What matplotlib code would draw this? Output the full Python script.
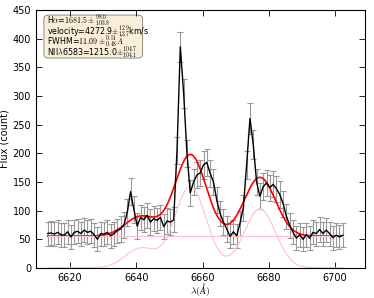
import numpy as np
import matplotlib
matplotlib.use("Agg")
import matplotlib.pyplot as plt
from matplotlib.patches import FancyBboxPatch

plt.rcParams['mathtext.fontset'] = 'cm'
plt.rcParams['font.family'] = 'DejaVu Sans'

# observed spectrum, 1 A sampling starting at 6613.3 A
wave_start = 6613.3
flux = [60, 61, 59, 62, 58, 57, 63, 54, 62, 64,
        60, 66, 62, 64, 58, 50, 60, 59, 62, 56,
        60, 65, 68, 75, 97, 133, 102, 73, 88, 84,
        92, 80, 86, 83, 88, 72, 82, 80, 84, 205,
        386, 305, 200, 131, 150, 162, 166, 180, 184, 165,
        150, 118, 95, 80, 68, 55, 63, 56, 78, 105,
        180, 261, 215, 150, 125, 142, 148, 140, 146, 138,
        128, 112, 90, 74, 62, 52, 58, 50, 58, 52,
        62, 60, 67, 60, 66, 60, 53, 57, 54, 57]
flux_err = [21, 21, 21, 21, 21, 21, 21, 21, 21, 21,
            21, 21, 21, 21, 21, 21, 21, 21, 21, 21,
            21, 21, 22, 22, 23, 24, 23, 22, 22, 22,
            22, 22, 22, 22, 22, 22, 22, 22, 22, 24,
            26, 25, 24, 23, 23, 23, 23, 24, 24, 23,
            23, 23, 22, 22, 22, 21, 21, 21, 22, 23,
            24, 27, 25, 23, 23, 23, 23, 23, 23, 23,
            23, 23, 22, 22, 21, 21, 21, 21, 21, 21,
            21, 21, 21, 21, 21, 21, 21, 21, 21, 21]
wave = wave_start + np.arange(len(flux))

# fit parameters (from the annotation box)
ha_flux = 1681.5
nii_flux = 1215.0
velocity = 4272.9
fwhm = 11.09
continuum = 55.5
ha_rest, nii_rest, nii2_rest = 6562.8, 6583.45, 6548.05

info_lines = [r'H$\alpha$=$1681.5\pm^{98.0}_{103.8}$',
              r'velocity=4272.9$\pm^{12.9}_{13.7}$km/s',
              r'FWHM=$11.09\pm^{0.51}_{0.48}\,\AA$',
              r'NII$\lambda$6583=1215.0$\pm^{104.7}_{104.1}$']


def gauss(x, total, centre, sig):
    return total / (sig * np.sqrt(2 * np.pi)) * np.exp(-0.5 * ((x - centre) / sig) ** 2)


z = velocity / 299792.458
sigma = fwhm / 2.3548
xf = np.linspace(wave[0], wave[-1], 600)
lines = (gauss(xf, ha_flux, ha_rest * (1 + z), sigma)
         + gauss(xf, nii_flux, nii_rest * (1 + z), sigma * nii_rest / ha_rest)
         + gauss(xf, nii_flux / 3.0, nii2_rest * (1 + z), sigma * nii2_rest / ha_rest))

fig = plt.figure(figsize=(3.74, 2.98), dpi=100)
ax = fig.add_axes([0.096, 0.101, 0.88, 0.865])

ax.errorbar(wave, flux, yerr=flux_err, fmt='-', color='black', lw=1.0,
            ecolor='#999999', elinewidth=0.8, capsize=2, capthick=0.8)
ax.plot(xf, continuum + lines, color='red', lw=1.2)
ax.plot(xf, lines, color='pink', lw=0.8)
ax.plot([wave[0], wave[-1]], [continuum, continuum], color='pink', lw=0.8)

ax.set_xlim(6609.75, 6709)
ax.set_ylim(0, 450)
ax.set_xticks([6620, 6640, 6660, 6680, 6700])
ax.set_yticks(np.arange(0, 451, 50))
ax.tick_params(direction='in', top=True, right=True, labelsize=7, length=4, width=0.6)
ax.set_xlabel(r'$\lambda(\AA)$', fontsize=7, labelpad=-1.5)
ax.set_ylabel('Flux (count)', fontsize=7, labelpad=2)

# info box
box = FancyBboxPatch((0.0243, 0.814), 0.30, 0.167, transform=ax.transAxes,
                     boxstyle='round,pad=0,rounding_size=0.015',
                     facecolor='wheat', alpha=0.5, edgecolor='black', lw=0.6)
ax.add_patch(box)
for k, s in enumerate(info_lines):
    ax.text(0.033, 0.948 - k * 0.041, s, transform=ax.transAxes,
            fontsize=5.7, va='baseline', ha='left')

fig.savefig('out.png', dpi=100)
